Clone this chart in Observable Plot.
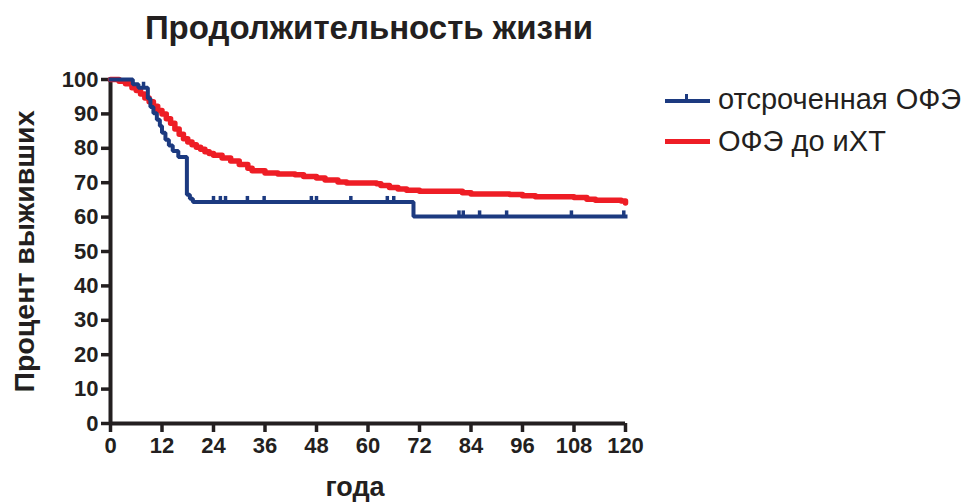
<!DOCTYPE html>
<html>
<head>
<meta charset="utf-8">
<script src="https://cdn.jsdelivr.net/npm/d3@7"></script>
<script src="https://cdn.jsdelivr.net/npm/@observablehq/plot@0.6"></script>
<style>
  html, body { margin: 0; padding: 0; background: #fff; }
  #wrap { position: relative; width: 963px; height: 502px; overflow: hidden; font-family: "Liberation Sans", Arial, sans-serif; color: #231f20; }
  #title { position: absolute; left: 0; width: 738px; top: 9px; text-align: center; font-weight: bold; font-size: 33px; }
  #chart { position: absolute; left: 0; top: 60px; }
  .legline { position: absolute; left: 665px; width: 45px; }
  .legtext { position: absolute; left: 718px; font-size: 29px; white-space: nowrap; line-height: 1; }
</style>
</head>
<body>
<div id="wrap">
  <div id="title"></div>
  <div id="chart"></div>
  <div id="legend"></div>
</div>
<script>
// ---- data ----
const chartTitle = "Продолжительность жизни";
const xLabel = "года";
const yLabel = "Процент выживших";
const seriesNames = ["отсроченная ОФЭ", "ОФЭ до иХТ"];
const seriesColors = ["#1c3a80", "#ee1d25"];
const xTicks = [0, 12, 24, 36, 48, 60, 72, 84, 96, 108, 120];
const yTicks = [0, 10, 20, 30, 40, 50, 60, 70, 80, 90, 100];

// Kaplan–Meier steps, group 1 (deferred)
const blueTime = [0, 5.2, 6.5, 8.7, 9.3, 10.0, 10.8, 11.5, 12.0, 12.8, 13.6, 14.5, 15.8, 17.8, 18.5, 19.2, 70.6, 120];
const blueSurv = [100, 98.6, 97.6, 94.5, 92, 90.2, 88.3, 86.5, 84.5, 82.5, 80.8, 79.2, 77.5, 66.5, 65.3, 64.4, 60.2, 60.2];
// censored marks, group 1
const blueCensorTime = [7.7, 24.0, 25.6, 26.8, 31.9, 35.8, 46.8, 48.0, 56.0, 64.5, 66.0, 81.2, 82.2, 86.0, 92.3, 107.4, 119.6];
const blueCensorSurv = [97.6, 64.4, 64.4, 64.4, 64.4, 64.4, 64.4, 64.4, 64.4, 64.4, 64.4, 60.2, 60.2, 60.2, 60.2, 60.2, 60.2];

// group 2 (OFE before iChT)
const redTime = [0, 2, 3.5, 5, 6, 7, 8, 9, 10, 11, 12, 13, 14, 15, 16, 17, 18, 19, 20, 21, 22, 23, 24, 26, 28, 30, 32, 33, 36, 39, 43, 45, 48, 50, 53, 55, 62, 63, 65, 67, 69, 72, 80, 82, 84, 93, 96, 99, 108, 111, 113, 118, 119, 120];
const redSurv = [100, 99.5, 98.8, 97.6, 96.8, 95.8, 94.6, 93.5, 92.2, 91, 90, 88.6, 87.3, 85.6, 84.1, 82.8, 81.8, 81, 80.3, 79.7, 79, 78.5, 78, 77.2, 76.3, 75.3, 74.2, 73.5, 72.8, 72.5, 72.3, 71.8, 71.4, 70.8, 70.2, 69.9, 69.7, 69.2, 68.6, 68.2, 67.8, 67.5, 67.5, 67.1, 66.7, 66.6, 66.2, 65.9, 65.7, 65.2, 64.9, 64.9, 64.7, 64.1];

// ---- build tables ----
const blue = blueTime.map((t, i) => ({t, s: blueSurv[i]}));
const red = redTime.map((t, i) => ({t, s: redSurv[i]}));
const censor = blueCensorTime.map((t, i) => ({t, s: blueCensorSurv[i]}));

const ink = "#231f20";

const chart = Plot.plot({
  width: 963,
  height: 442,
  marginLeft: 110,
  marginRight: 338,
  marginTop: 19,
  marginBottom: 79,
  x: {domain: [0, 120]},
  y: {domain: [0, 100]},
  style: {fontFamily: '"Liberation Sans", Arial, sans-serif', fontWeight: "bold", color: ink, background: "white", overflow: "visible"},
  marks: [
    Plot.axisX({ticks: xTicks, tickSize: 9, tickPadding: 5, strokeWidth: 3.5, stroke: ink, fill: ink, fontSize: 22, label: null}),
    Plot.axisY({ticks: yTicks, tickSize: 9, tickPadding: 3, strokeWidth: 3.5, stroke: ink, fill: ink, fontSize: 22, label: null}),
    Plot.ruleY([0], {x1: 0, x2: 120, stroke: ink, strokeWidth: 4}),
    Plot.ruleX([0], {y1: 0, y2: 100, stroke: ink, strokeWidth: 4}),
    Plot.line(red, {x: "t", y: "s", curve: "step-after", stroke: seriesColors[1], strokeWidth: 5.5, strokeLinejoin: "round", strokeLinecap: "round"}),
    Plot.line(blue, {x: "t", y: "s", curve: "step-after", stroke: seriesColors[0], strokeWidth: 4, strokeLinejoin: "miter", strokeLinecap: "square"}),
    Plot.ruleX(censor, {x: "t", y1: "s", y2: d => d.s + 1.6, stroke: seriesColors[0], strokeWidth: 3.5}),
    Plot.text([xLabel], {frameAnchor: "bottom", lineAnchor: "middle", dx: -13, dy: 64, fontSize: 27, fill: ink}),
    Plot.text([yLabel], {frameAnchor: "left", textAnchor: "middle", lineAnchor: "middle", rotate: -90, dx: -86, fontSize: 28.5, fill: ink})
  ]
});
document.getElementById("chart").appendChild(chart);
document.getElementById("title").textContent = chartTitle;

// legend
const legend = document.getElementById("legend");
const legTops = [85, 127];
seriesNames.forEach((name, i) => {
  const line = document.createElement("div");
  line.className = "legline";
  line.style.top = (i === 0 ? 99 : 139) + "px";
  line.style.height = (i === 0 ? 4 : 5) + "px";
  line.style.background = seriesColors[i];
  legend.appendChild(line);
  if (i === 0) {
    const tk = document.createElement("div");
    tk.style.cssText = `position:absolute;left:685px;top:94px;width:3px;height:6px;background:${seriesColors[0]}`;
    legend.appendChild(tk);
  }
  const tx = document.createElement("div");
  tx.className = "legtext";
  tx.style.top = legTops[i] + "px";
  tx.textContent = name;
  legend.appendChild(tx);
});
</script>
</body>
</html>
